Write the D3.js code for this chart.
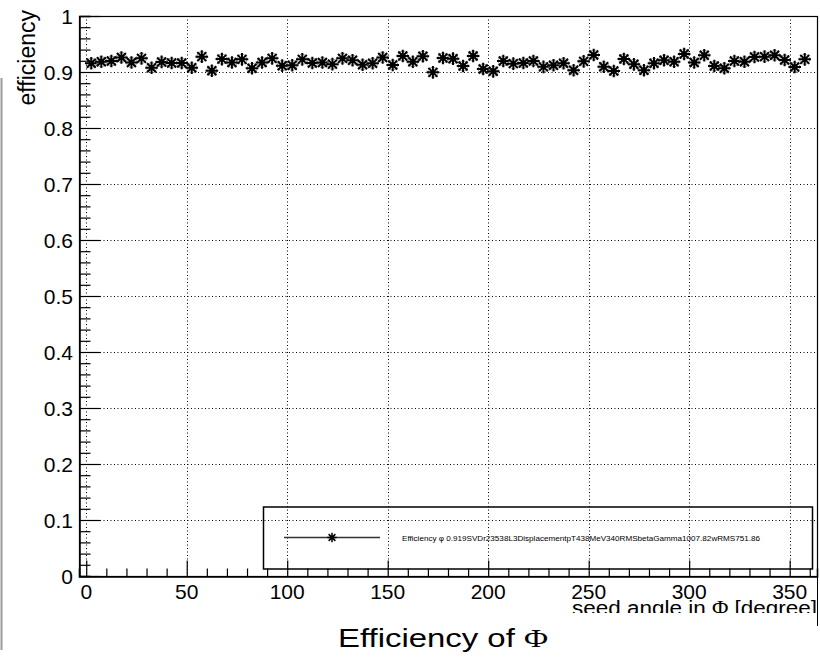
<!DOCTYPE html>
<html>
<head>
<meta charset="utf-8">
<script src="https://cdn.jsdelivr.net/npm/d3@7"></script>
<style>
  body { margin: 0; background: #fff; }
  text { font-family: "Liberation Sans", Arial, Helvetica, sans-serif; }
</style>
</head>
<body>
<div id="chart"></div>
<script>
// bin centres in degrees (5 degree bins)
const phiBins = [2.5, 7.5, 12.5, 17.5, 22.5, 27.5, 32.5, 37.5, 42.5, 47.5,
  52.5, 57.5, 62.5, 67.5, 72.5, 77.5, 82.5, 87.5, 92.5, 97.5,
  102.5, 107.5, 112.5, 117.5, 122.5, 127.5, 132.5, 137.5, 142.5, 147.5,
  152.5, 157.5, 162.5, 167.5, 172.5, 177.5, 182.5, 187.5, 192.5, 197.5,
  202.5, 207.5, 212.5, 217.5, 222.5, 227.5, 232.5, 237.5, 242.5, 247.5,
  252.5, 257.5, 262.5, 267.5, 272.5, 277.5, 282.5, 287.5, 292.5, 297.5,
  302.5, 307.5, 312.5, 317.5, 322.5, 327.5, 332.5, 337.5, 342.5, 347.5,
  352.5, 357.5];
const efficiency = [0.9155, 0.9184, 0.9196, 0.926, 0.917, 0.9244, 0.9077, 0.918, 0.916, 0.916,
  0.9077, 0.9274, 0.9023, 0.923, 0.917, 0.9226, 0.9066, 0.917, 0.9244, 0.9113,
  0.912, 0.9226, 0.916, 0.917, 0.914, 0.9244, 0.9209, 0.913, 0.9155, 0.926,
  0.9125, 0.9286, 0.9184, 0.928, 0.8994, 0.925, 0.9238, 0.9107, 0.9286, 0.9054,
  0.9012, 0.9196, 0.9149, 0.916, 0.9196, 0.9092, 0.912, 0.9155, 0.903, 0.919,
  0.9304, 0.9095, 0.9018, 0.9232, 0.9137, 0.903, 0.9155, 0.9209, 0.9184, 0.9321,
  0.917, 0.9298, 0.9107, 0.9066, 0.9196, 0.9184, 0.9268, 0.9274, 0.9298, 0.9214,
  0.9089, 0.9226];
const xTicks = [0, 50, 100, 150, 200, 250, 300, 350];
const yTicks = [0, 0.1, 0.2, 0.3, 0.4, 0.5, 0.6, 0.7, 0.8, 0.9, 1];
const legendLabel = "Efficiency \u03c6 0.919SVDr23538L3DisplacementpT438MeV340RMSbetaGamma1007.82wRMS751.86";

const width = 820, height = 657;
const frame = { left: 79, top: 16, right: 817, bottom: 576 };
const serif = "Liberation Serif, Times New Roman, serif";

const svg = d3.select("#chart").append("svg")
  .attr("width", width)
  .attr("height", height)
  .style("background", "#fff");

const x = d3.scaleLinear().domain([-3.6, 363.6]).range([frame.left, frame.right]);
const y = d3.scaleLinear().domain([0, 1]).range([frame.bottom, frame.top]);

// window edges
svg.append("line")
  .attr("x1", 1.5).attr("x2", 1.5).attr("y1", 78).attr("y2", 650)
  .attr("stroke", "#9a9a9a").attr("stroke-width", 2);
svg.append("line")
  .attr("x1", 817.5).attr("x2", 817.5).attr("y1", frame.bottom).attr("y2", 626)
  .attr("stroke", "#000").attr("stroke-width", 1);

// grid
const grid = svg.append("g")
  .attr("stroke", "#000").attr("stroke-width", 1).attr("stroke-dasharray", "1,2.5");
grid.selectAll(".gx").data(xTicks).enter().append("line")
  .attr("x1", d => Math.round(x(d)) + 0.5).attr("x2", d => Math.round(x(d)) + 0.5)
  .attr("y1", frame.top).attr("y2", frame.bottom);
grid.selectAll(".gy").data(yTicks.filter(d => d > 0 && d < 1)).enter().append("line")
  .attr("x1", frame.left).attr("x2", frame.right)
  .attr("y1", d => Math.round(y(d)) + 0.5).attr("y2", d => Math.round(y(d)) + 0.5);

// frame
svg.append("rect")
  .attr("x", frame.left + 0.5).attr("y", frame.top + 0.5)
  .attr("width", frame.right - frame.left).attr("height", frame.bottom - frame.top)
  .attr("fill", "none").attr("stroke", "#000").attr("stroke-width", 1.2);

// x axis
const xAxis = svg.append("g")
  .attr("transform", `translate(0,${frame.bottom + 0.5})`)
  .call(d3.axisBottom(x).tickValues(d3.range(0, 361, 10)).tickSize(-8).tickFormat(""));
xAxis.selectAll(".tick line")
  .attr("stroke-width", 1.2)
  .attr("y2", d => d % 50 === 0 ? -16 : -8);
xAxis.select(".domain").attr("stroke-width", 1.5);
svg.append("g").selectAll("text").data(xTicks).enter().append("text")
  .attr("x", d => x(d))
  .attr("y", 599)
  .attr("text-anchor", "middle")
  .attr("font-size", "21px")
  .text(d => d);

// y axis
const yAxis = svg.append("g")
  .attr("transform", `translate(${frame.left + 0.5},0)`)
  .call(d3.axisRight(y).tickValues(d3.range(0, 51).map(i => i / 50)).tickSize(11).tickFormat(""));
yAxis.selectAll(".tick line")
  .attr("stroke-width", 1.2)
  .attr("x2", (d, i) => i % 5 === 0 ? 21 : 11);
yAxis.select(".domain").attr("stroke-width", 1.5);
svg.append("g").selectAll("text").data(yTicks).enter().append("text")
  .attr("x", 73)
  .attr("y", d => y(d) + 7.5)
  .attr("text-anchor", "end")
  .attr("font-size", "21px")
  .text(d => d3.format("~g")(d));

// markers
const star = "M-6.3,0H6.3M0,-6.3V6.3M-4.5,-4.5L4.5,4.5M-4.5,4.5L4.5,-4.5";
const marks = svg.append("g").selectAll("g").data(phiBins).enter().append("g")
  .attr("transform", (d, i) => `translate(${x(d)},${y(efficiency[i])})`);
marks.append("circle").attr("r", 5)
  .attr("fill", "none").attr("stroke", "#777").attr("stroke-width", 0.8);
marks.append("path").attr("d", star)
  .attr("fill", "none").attr("stroke", "#000").attr("stroke-width", 2);

// legend
const leg = svg.append("g");
leg.append("rect")
  .attr("x", 263.5).attr("y", 507).attr("width", 549).attr("height", 62)
  .attr("fill", "none").attr("stroke", "#000").attr("stroke-width", 1.5);
leg.append("line")
  .attr("x1", 284).attr("x2", 380).attr("y1", 537.5).attr("y2", 537.5)
  .attr("stroke", "#333").attr("stroke-width", 1.3);
leg.append("path")
  .attr("transform", "translate(332,537.5) scale(0.75)")
  .attr("d", star).attr("fill", "none").attr("stroke", "#000").attr("stroke-width", 2);
leg.append("text")
  .attr("x", 402).attr("y", 540.5)
  .attr("font-size", "7.5px")
  .attr("textLength", 358)
  .attr("lengthAdjust", "spacingAndGlyphs")
  .text(legendLabel);

// axis titles
svg.append("text")
  .attr("transform", "translate(35,10) rotate(-90)")
  .attr("text-anchor", "end")
  .attr("font-size", "23px")
  .text("efficiency");

svg.append("clipPath").attr("id", "xtclip")
  .append("rect").attr("x", 0).attr("y", 590).attr("width", 820).attr("height", 23);
svg.append("text")
  .attr("clip-path", "url(#xtclip)")
  .attr("x", 572).attr("y", 615)
  .attr("font-size", "20px")
  .attr("textLength", 245)
  .attr("lengthAdjust", "spacingAndGlyphs")
  .html(`seed angle in <tspan font-family="${serif}">\u03a6</tspan> [degree]`);

// title
svg.append("text")
  .attr("x", 338).attr("y", 647)
  .attr("font-size", "26px")
  .attr("textLength", 210)
  .attr("lengthAdjust", "spacingAndGlyphs")
  .html(`Efficiency of <tspan font-family="${serif}">\u03a6</tspan>`);
</script>
</body>
</html>
